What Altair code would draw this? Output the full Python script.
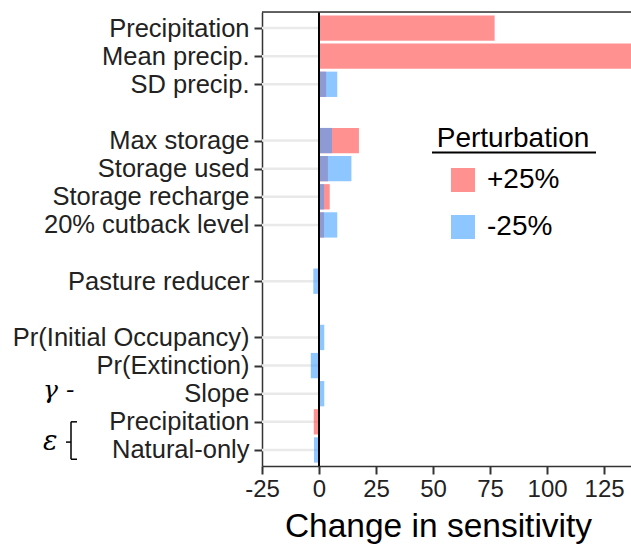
import json
import altair as alt
import pandas as pd

# Parameters, their row slot on the y axis (gaps separate the groups)
params = [
    "Precipitation", "Mean precip.", "SD precip.",
    "Max storage", "Storage used", "Storage recharge", "20% cutback level",
    "Pasture reducer",
    "Pr(Initial Occupancy)", "Pr(Extinction)", "Slope", "Precipitation", "Natural-only",
]
slots = [0, 1, 2, 4, 5, 6, 7, 9, 11, 12, 13, 14, 15]

# Change in sensitivity for each perturbation
plus25 = [77, 150, 3.1, 17.5, 3.9, 4.7, 2.2, 0, 0, 0, 0, -2.3, 0]
minus25 = [0, 0, 8.0, 5.7, 14.2, 2.2, 8.0, -2.5, 2.3, -3.6, 2.3, 0, -2.2]

x_ticks = [-25, 0, 25, 50, 75, 100, 125]
groups = ["+25%", "-25%"]
group_colors = ["#FF4848", "#43A0FF"]

N_SLOTS = 16
slot_labels = [""] * N_SLOTS
for s, p in zip(slots, params):
    slot_labels[s] = p

rows = []
for g, vals in zip(groups, [plus25, minus25]):
    for p, s, v in zip(params, slots, vals):
        rows.append({"param": p, "slot": s, "value": v, "Perturbation": g})
df = pd.DataFrame(rows)
base_rows = pd.DataFrame({"param": params, "slot": slots})

W, H = 369, 454
FONT = "Liberation Sans"

y_scale = alt.Scale(domain=[-0.57, N_SLOTS - 1 + 0.57], reverse=True, nice=False, zero=False)
x_scale = alt.Scale(domain=[-25, 136.8], nice=False, zero=False)

y_axis = alt.Axis(
    values=slots,
    labelExpr=f"{json.dumps(slot_labels)}[datum.value]",
    labelOverlap=False, labelLimit=0, labelBound=False, labelFlush=False,
    title=None, grid=False,
    labelFontSize=25.5, labelFont=FONT, labelColor="#222", labelPadding=5,
    tickSize=8, tickWidth=2, tickColor="#333",
    domainColor="#333", domainWidth=1.5,
)
x_axis = alt.Axis(
    values=x_ticks, labelExpr="'' + datum.value",
    labelOverlap=False, labelLimit=0, labelFlush=False,
    title="Change in sensitivity", grid=False,
    labelFontSize=24, labelFont=FONT, labelColor="#222", labelPadding=3,
    tickSize=8, tickWidth=2, tickColor="#333",
    domainColor="#333", domainWidth=1.5,
    titleFontSize=33.5, titleFont=FONT, titleFontWeight="normal", titleColor="#000",
    titlePadding=9, titleX=176, titleAlign="center",
)


def Y(field):
    return alt.Y(field, scale=y_scale, axis=y_axis)


# light leader lines from the left edge to zero
leaders = alt.Chart(base_rows).mark_rule(color="#e9e9e9", strokeWidth=2.5).encode(
    y=Y("slot:Q"),
    x=alt.datum(-25, scale=x_scale, axis=x_axis),
    x2=alt.datum(0),
)

color = alt.Color(
    "Perturbation:N",
    scale=alt.Scale(domain=groups, range=group_colors),
    legend=alt.Legend(
        title=None, orient="none", legendX=187, legendY=154,
        symbolType="square", symbolSize=576, symbolStrokeWidth=0, symbolOpacity=0.6,
        labelFontSize=28, labelFont=FONT, labelColor="#000", labelOffset=10,
        rowPadding=19, padding=0,
    ),
)


def bars(group):
    return alt.Chart(df).transform_filter(
        alt.datum.Perturbation == group
    ).transform_calculate(
        y_lo="datum.slot - 0.45", y_hi="datum.slot + 0.45"
    ).mark_bar(opacity=0.6, clip=True).encode(
        x=alt.X("value:Q", scale=x_scale, stack=None, axis=x_axis),
        x2=alt.datum(0),
        y=Y("y_lo:Q"),
        y2="y_hi:Q",
        color=color,
    )


zero_line = alt.Chart(base_rows).mark_rule(color="#000", strokeWidth=1.5).encode(
    x=alt.datum(0, scale=x_scale, axis=x_axis)
)

top_border = alt.Chart(base_rows.head(1)).mark_rule(color="#333", strokeWidth=1.5).encode(
    x=alt.value(0), x2=alt.value(W), y=alt.value(0)
)

legend_title = alt.Chart(pd.DataFrame({"t": ["Perturbation"]})).mark_text(
    fontSize=28, font=FONT, color="#000", align="center", baseline="alphabetic"
).encode(text="t:N", x=alt.value(251), y=alt.value(135))

legend_underline = alt.Chart(pd.DataFrame({"t": ["Perturbation"]})).mark_rule(
    color="#000", strokeWidth=2
).encode(x=alt.value(170), x2=alt.value(334), y=alt.value(140.5))

# group markers to the left of the axis labels
gamma = alt.Chart(pd.DataFrame({"t": ["γ -"], "slot": [13]})).mark_text(
    font="DejaVu Serif", fontStyle="italic", fontSize=25, align="left",
    baseline="alphabetic", dy=4, clip=False
).encode(text="t:N", x=alt.value(-219), y=Y("slot:Q"))

epsilon = alt.Chart(pd.DataFrame({"t": ["ε"], "slot": [14.5]})).mark_text(
    font="DejaVu Serif", fontStyle="italic", fontSize=27, align="left",
    baseline="alphabetic", dy=14, clip=False
).encode(text="t:N", x=alt.value(-219), y=Y("slot:Q"))

bracket_df = pd.DataFrame({"ya": [14.0], "yb": [15.33], "ym": [14.72]})
bracket_v = alt.Chart(bracket_df).mark_rule(color="#000", strokeWidth=1.5).encode(
    x=alt.value(-191), y=Y("ya:Q"), y2="yb:Q"
)
bracket_top = alt.Chart(bracket_df).mark_rule(color="#000", strokeWidth=1.5).encode(
    x=alt.value(-191), x2=alt.value(-185), y=Y("ya:Q")
)
bracket_bot = alt.Chart(bracket_df).mark_rule(color="#000", strokeWidth=1.5).encode(
    x=alt.value(-191), x2=alt.value(-185), y=Y("yb:Q")
)
bracket_mid = alt.Chart(bracket_df).mark_rule(color="#000", strokeWidth=1.5).encode(
    x=alt.value(-196), x2=alt.value(-191), y=Y("ym:Q")
)

chart = alt.layer(
    leaders, bars("+25%"), bars("-25%"), zero_line, top_border,
    legend_title, legend_underline, gamma, epsilon,
    bracket_v, bracket_top, bracket_bot, bracket_mid,
).properties(
    width=W, height=H,
    autosize=alt.AutoSizeParams(type="none"),
    padding={"left": 262, "top": 12, "right": 0, "bottom": 80},
).configure_view(stroke=None).configure_axis(
    labelOverlap=False
).configure(background="white")

chart.save("out.html", embed_options={"renderer": "svg", "actions": False})
